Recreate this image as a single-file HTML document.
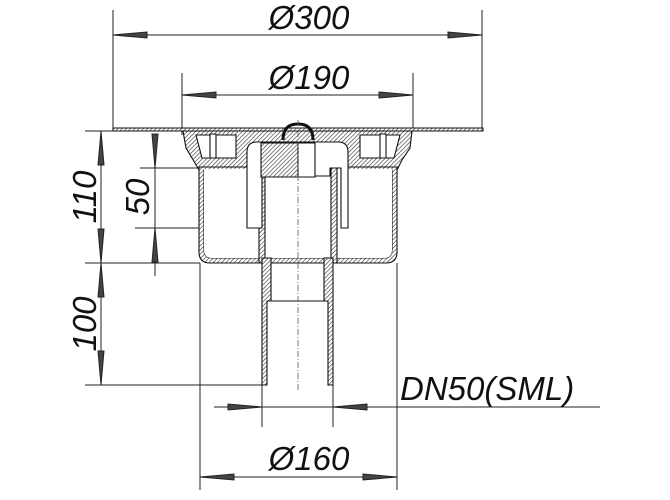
<!DOCTYPE html>
<html><head><style>
html,body{margin:0;padding:0;background:#fff;}
svg{display:block;}
text{font-family:"Liberation Sans",sans-serif;font-style:italic;fill:#111;}
</style></head><body>
<svg width="670" height="500" viewBox="0 0 670 500" xmlns="http://www.w3.org/2000/svg">
<defs>
<pattern id="h" width="3" height="3" patternUnits="userSpaceOnUse" patternTransform="rotate(45)">
<rect width="3" height="3" fill="#fff"/><line x1="0" y1="0" x2="0" y2="3" stroke="#333" stroke-width="1.2"/>
</pattern>
</defs>
<g stroke="#222" stroke-width="1" fill="none">
<line x1="113" y1="10" x2="113" y2="130"/>
<line x1="482" y1="10" x2="482" y2="130"/>
<line x1="113" y1="35" x2="482" y2="35"/>
<path d="M113,35 l34,-3 v6 z M482,35 l-34,-3 v6 z" fill="#444"/>
<line x1="182" y1="73" x2="182" y2="135"/>
<line x1="413" y1="73" x2="413" y2="130"/>
<line x1="182" y1="95" x2="413" y2="95"/>
<path d="M182,95 l34,-3 v6 z M413,95 l-34,-3 v6 z" fill="#444"/>
<line x1="85" y1="131" x2="182" y2="131"/>
<line x1="85" y1="263" x2="200" y2="263"/>
<line x1="85" y1="385" x2="262" y2="385"/>
<line x1="140" y1="168" x2="258" y2="168"/>
<line x1="135" y1="228" x2="248" y2="228"/>
<line x1="101" y1="131" x2="101" y2="385"/>
<path d="M101,131 l-3,34 h6 z M101,263 l-3,-34 h6 z M101,263 l-3,34 h6 z M101,385 l-3,-34 h6 z" fill="#444"/>
<line x1="155" y1="140" x2="155" y2="276"/>
<path d="M155,168 l-3,-34 h6 z M155,228 l-3,34 h6 z" fill="#444"/>
<line x1="200" y1="263" x2="200" y2="490"/>
<line x1="397" y1="263" x2="397" y2="490"/>
<line x1="200" y1="477" x2="397" y2="477"/>
<path d="M200,477 l34,-3 v6 z M397,477 l-34,-3 v6 z" fill="#444"/>
<line x1="262" y1="385" x2="262" y2="427"/>
<line x1="333" y1="385" x2="333" y2="427"/>
<line x1="214" y1="407" x2="600" y2="407"/>
<path d="M262,407 l-34,-3 v6 z M333,407 l34,-3 v6 z" fill="#444"/>
</g>
<g stroke="#111" stroke-width="1.1">
<path d="M113,128 H483 V131 H113 Z" fill="url(#h)"/>
<path d="M183,131 H412 L410,148 L402,160 L397,170 H199 L192,158 L186,148 Z" fill="url(#h)"/>
<path d="M196,135 H236 V158 H202 Z M360,135 H400 L394,158 H360 Z" fill="#fff"/>
<path d="M210,134 h6 v24 h-6 z M380,134 h6 v24 h-6 z" fill="#fff"/>
<path fill-rule="evenodd" fill="url(#h)" d="M199,167 H397 V252 Q397,263 386,263 H210 Q199,263 199,252 Z M204,170 V250 Q204,258 212,258 H384 Q392,258 392,250 V170 Z"/>
<path d="M204,169 H392 V250 Q392,258 384,258 H212 Q204,258 204,250 Z" fill="#fff" stroke="none"/>
<path d="M259,168 H265 V263 H259 Z M331,168 H337 V263 H331 Z" fill="url(#h)"/>
<path d="M262,258 H271 V301 H267 V385 H262 Z M324,258 H333 V385 H328 V301 H324 Z" fill="url(#h)"/>
<line x1="267" y1="301" x2="328" y2="301"/>
<path d="M247,228 V152 Q247,142 257,142 H338 Q348,142 348,152 V228 H341 V168 H330 V176 H262 V228 Z" fill="#fff"/>
<path d="M261,143 H298 V177 H261 Z" fill="url(#h)"/>
<path d="M298,143 H315 V177 H298 Z" fill="#fff"/>
<path d="M283,140 Q283,124 298,124 Q313,124 313,140" fill="none" stroke-width="3"/>
</g>
<line x1="298" y1="120" x2="298" y2="390" stroke="#555" stroke-width="0.8" stroke-dasharray="6,2,1,2"/>
<text x="309" y="29" font-size="33" text-anchor="middle">Ø300</text>
<text x="309" y="89" font-size="33" text-anchor="middle">Ø190</text>
<text x="309" y="470" font-size="33" text-anchor="middle">Ø160</text>
<text x="400" y="400" font-size="33">DN50(SML)</text>
<text font-size="33" text-anchor="middle" transform="translate(96,197) rotate(-90)">110</text>
<text font-size="33" text-anchor="middle" transform="translate(149,197) rotate(-90)">50</text>
<text font-size="33" text-anchor="middle" transform="translate(96,324) rotate(-90)">100</text>
</svg>
</body></html>
